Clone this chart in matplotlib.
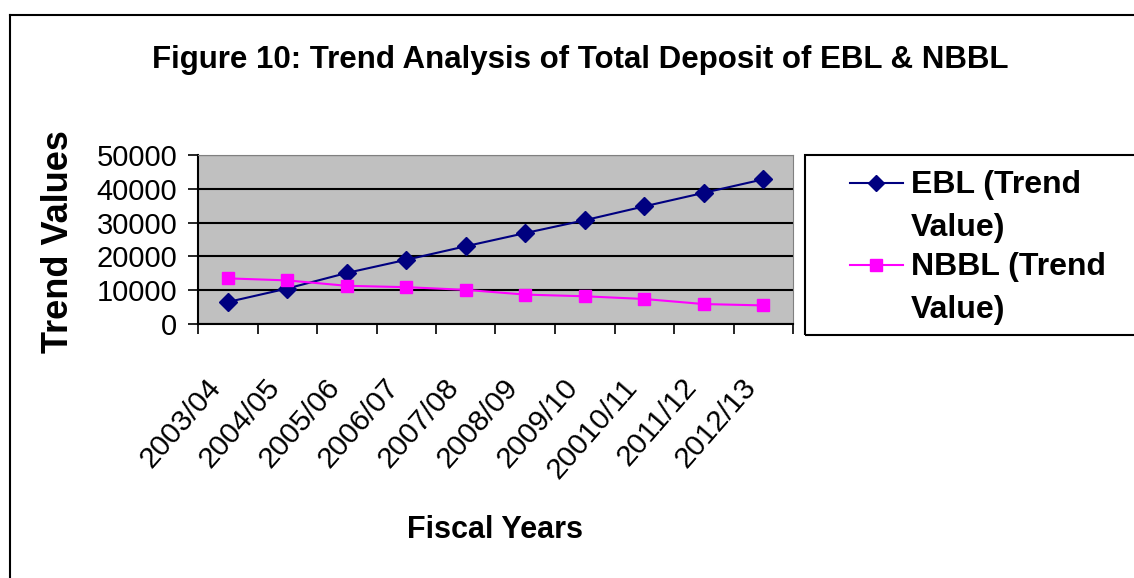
import matplotlib.pyplot as plt
from matplotlib.lines import Line2D
from matplotlib.patches import Rectangle
from matplotlib.transforms import ScaledTranslation

plt.rcParams["font.family"] = ["Liberation Sans", "DejaVu Sans"]

years = ["2003/04", "2004/05", "2005/06", "2006/07", "2007/08",
         "2008/09", "2009/10", "20010/11", "2011/12", "2012/13"]
ebl = [6500, 10500, 15100, 19000, 23000, 26900, 30700, 34800, 38800, 42800]
nbbl = [13500, 12900, 11300, 10900, 10100, 8700, 8200, 7400, 5900, 5500]

W, H = 1134, 578
fig = plt.figure(figsize=(W / 100, H / 100), dpi=100)
ax = fig.add_axes([198 / W, 1 - 324 / H, (793 - 198) / W, (324 - 155) / H])

x = list(range(len(years)))
ax.plot(x, ebl, color="#000080", lw=1.5, marker="D", ms=9, label="EBL (Trend Value)")
ax.plot(x, nbbl, color="#FF00FF", lw=1.5, marker="s", ms=9, label="NBBL (Trend Value)")

ax.set_facecolor("#C0C0C0")
ax.set_xlim(-0.5, len(years) - 0.5)
ax.set_ylim(0, 50000)
ax.set_yticks([0, 10000, 20000, 30000, 40000, 50000])
ax.yaxis.grid(True, color="black", lw=1.5)
ax.set_axisbelow(True)
for s in ax.spines.values():
    s.set_color("#808080")
ax.spines["left"].set_color("black")
ax.spines["bottom"].set_color("black")
ax.spines["left"].set_linewidth(1.5)
ax.spines["bottom"].set_linewidth(1.5)

ax.set_xticks([i - 0.5 for i in range(len(years) + 1)])
ax.set_xticklabels([])
ax.set_xticks(x, minor=True)
ax.set_xticklabels(years, minor=True, rotation=49, ha="right", va="center",
                   rotation_mode="anchor", fontsize=21.5)
ax.tick_params(axis="x", which="minor", length=0, pad=42)
ax.tick_params(axis="x", which="major", length=7, width=1.2, direction="out")
ax.tick_params(axis="y", length=7, width=1.2, labelsize=21, pad=8)
off = ScaledTranslation(-0.12, 0, fig.dpi_scale_trans)
for lab in ax.get_xticklabels(minor=True):
    lab.set_transform(lab.get_transform() + off)

ax.set_ylabel("Trend Values", fontsize=26, fontweight="bold", va="center")
ax.yaxis.set_label_coords((58 - 198) / 595, 0.49)
ax.set_xlabel("Fiscal Years", fontsize=22, fontweight="bold", va="center")
ax.xaxis.set_label_coords(0.5, (324 - 530) / 169)
fig.text(580 / W, 1 - 60 / H, "Figure 10: Trend Analysis of Total Deposit of EBL & NBBL",
         ha="center", va="center", fontsize=22.5, fontweight="bold")

# chart frame
fig.add_artist(Line2D([10 / W, 10 / W], [0, 1 - 15 / H], color="black", lw=1.5))
fig.add_artist(Line2D([10 / W, 1], [1 - 15 / H, 1 - 15 / H], color="black", lw=1.5))

# legend box
fig.add_artist(Rectangle((805 / W, 1 - 335 / H), (W + 5 - 805) / W, 180 / H,
                         fill=False, edgecolor="black", lw=1.5))
entries = [("EBL (Trend\nValue)", "#000080", "D", 183),
           ("NBBL (Trend\nValue)", "#FF00FF", "s", 265)]
for label, col, mk, ypix in entries:
    fy = 1 - ypix / H
    fig.add_artist(Line2D([850 / W, 903 / W], [fy, fy], color=col, lw=1.5))
    fig.add_artist(Line2D([876 / W], [fy], color=col, marker=mk, ms=8, lw=0))
    fig.text(911 / W, fy + 13 / H, label, ha="left", va="top", fontsize=23,
             fontweight="bold", linespacing=1.55)

fig.savefig("out.png", dpi=100)
